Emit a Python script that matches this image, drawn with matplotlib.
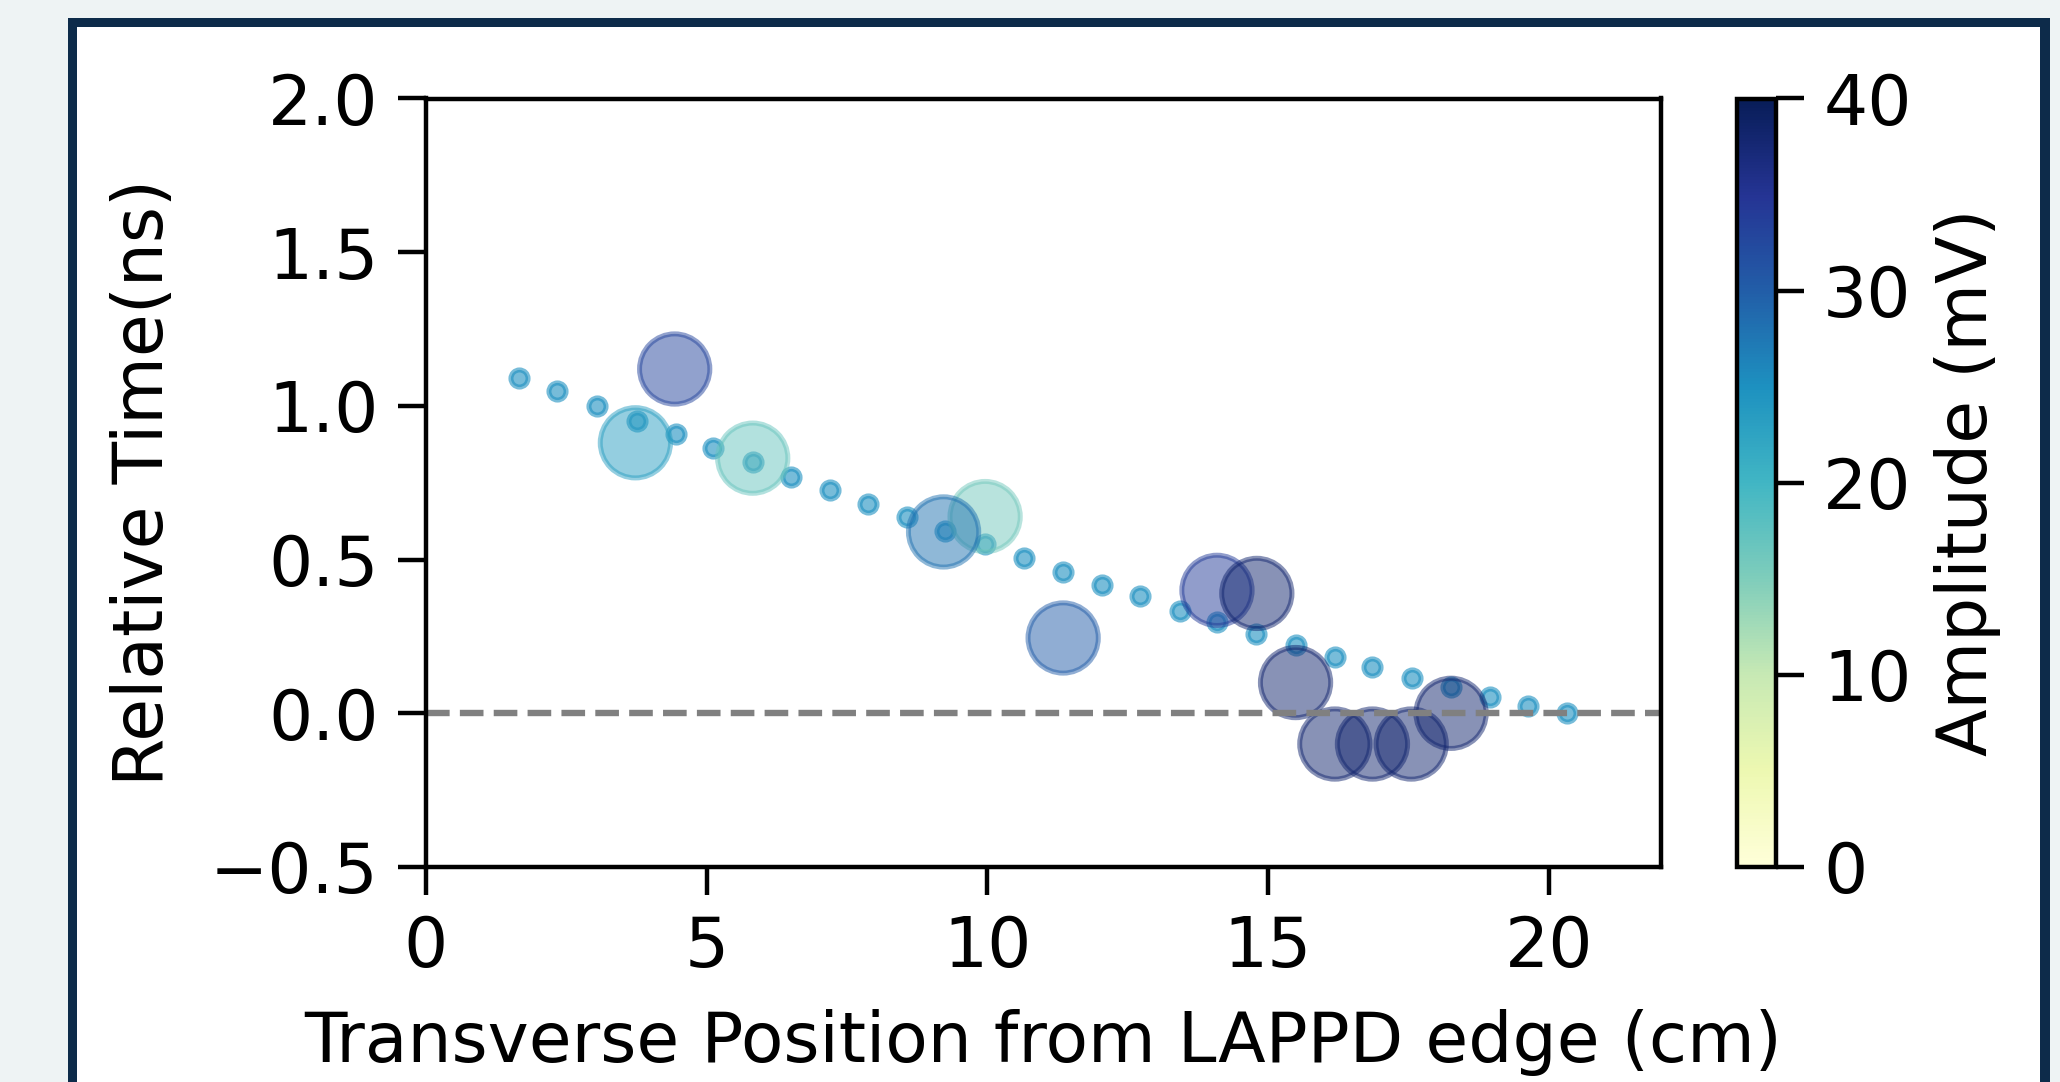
import matplotlib
matplotlib.use("Agg")
import matplotlib.pyplot as plt
from matplotlib.patches import Rectangle
from matplotlib.colors import Normalize
from matplotlib.cm import ScalarMappable

# evenly spaced fit points along the LAPPD
fit_x = [1.66, 2.34, 3.05, 3.75, 4.45, 5.12, 5.82, 6.50, 7.19, 7.88, 8.56, 9.24, 9.96, 10.65,
         11.35, 12.05, 12.72, 13.43, 14.09, 14.79, 15.49, 16.19, 16.86, 17.56, 18.26, 18.96, 19.63, 20.32]
fit_t = [1.09, 1.047, 1.00, 0.952, 0.908, 0.862, 0.816, 0.770, 0.727, 0.681, 0.638, 0.594, 0.550, 0.505,
         0.461, 0.418, 0.380, 0.333, 0.298, 0.257, 0.222, 0.184, 0.150, 0.116, 0.085, 0.052, 0.024, 0.0]
fit_amp = 25

# measured hits
hit_x = [4.43, 3.73, 5.82, 9.96, 9.22, 11.35, 14.09, 14.80, 15.49, 16.19, 16.86, 17.55, 18.26]
hit_t = [1.12, 0.88, 0.83, 0.64, 0.59, 0.245, 0.40, 0.39, 0.10, -0.10, -0.10, -0.10, 0.0]
hit_amp = [33, 23, 17, 16, 28, 30, 34, 38, 38, 38, 38, 38, 38]

W, H = 2060, 1082
fig = plt.figure(figsize=(W / 200, H / 200), dpi=200, facecolor="#eef3f4")
plt.rcParams["font.family"] = "DejaVu Sans"

# framed card (behind the axes)
fig.patches.append(Rectangle((68 / W, -0.05), (2050 - 68) / W, 1.05 - 18 / H,
                             transform=fig.transFigure, facecolor="#0d2b4a", edgecolor="none", zorder=-10))
fig.patches.append(Rectangle((77 / W, -0.05), (2040 - 77) / W, 1.05 - 27 / H,
                             transform=fig.transFigure, facecolor="white", edgecolor="none", zorder=-9))

ax = fig.add_axes([426 / W, 1 - 867 / H, (1661 - 426) / W, (867 - 98.5) / H])
cax = fig.add_axes([1737 / W, 1 - 867 / H, 39 / W, (867 - 98.5) / H])
ax.set_facecolor("white")

cmap = plt.get_cmap("YlGnBu")
norm = Normalize(0, 40)

ax.scatter(fit_x, fit_t, s=38, color=cmap(norm(fit_amp)), alpha=0.6, linewidths=1.8, zorder=1)
ax.scatter(hit_x, hit_t, s=640, c=hit_amp, cmap=cmap, norm=norm, alpha=0.5, linewidths=1.8,
           edgecolors="face", zorder=1)
ax.axhline(0, color="gray", linestyle="--", linewidth=2.3, zorder=2)

ax.set_xlim(0, 22)
ax.set_ylim(-0.5, 2.0)
ax.set_xticks([0, 5, 10, 15, 20])
ax.set_yticks([-0.5, 0.0, 0.5, 1.0, 1.5, 2.0])

fs = 25
ax.set_xlabel("Transverse Position from LAPPD edge (cm)", fontsize=fs, labelpad=10)
ax.set_ylabel("Relative Time(ns)", fontsize=fs, labelpad=12)
for a in (ax, cax):
    a.tick_params(labelsize=fs, length=10, width=1.6, pad=7)
    for s in a.spines.values():
        s.set_linewidth(1.6)

cb = fig.colorbar(ScalarMappable(norm=norm, cmap=cmap), cax=cax, ticks=[0, 10, 20, 30, 40])
cb.set_label("Amplitude (mV)", fontsize=fs, labelpad=8)
cb.outline.set_linewidth(1.6)

plt.savefig("out.png", dpi=200, facecolor=fig.get_facecolor())
